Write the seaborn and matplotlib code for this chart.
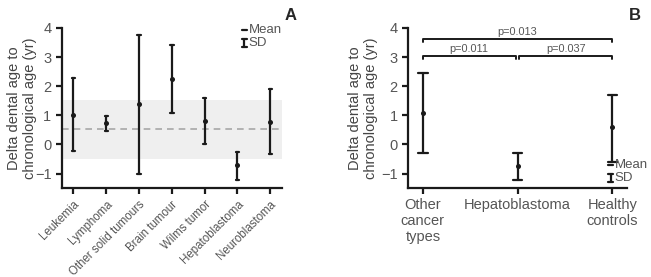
import pandas as pd
import seaborn as sns
import matplotlib.pyplot as plt

# Panel A: per cancer type, mean and SD limits
cats_a = ["Leukemia", "Lymphoma", "Other solid tumours", "Brain tumour",
          "Wilms tumor", "Hepatoblastoma", "Neuroblastoma"]
mean_a = [1.02, 0.72, 1.39, 2.24, 0.82, -0.72, 0.78]
low_a = [-0.22, 0.45, -1.00, 1.08, 0.03, -1.21, -0.33]
high_a = [2.28, 0.98, 3.77, 3.40, 1.60, -0.25, 1.89]

# Panel B
cats_b = ["Other\ncancer\ntypes", "Hepatoblastoma", "Healthy\ncontrols"]
mean_b = [1.07, -0.75, 0.59]
low_b = [-0.30, -1.23, -0.60]
high_b = [2.45, -0.28, 1.71]

# reference band in panel A
band_low, band_high, band_mid = -0.51, 1.54, 0.52

# significance brackets in panel B: (from, to, height, label)
brackets = [(0, 2, 3.61, "p=0.013"), (0, 0.98, 3.03, "p=0.011"), (1.02, 2, 3.03, "p=0.037")]

sns.set_style("ticks")
plt.rcParams["font.family"] = ["Liberation Sans", "DejaVu Sans"]

ink = "#1a1a1a"
grey = "#555555"


def long_frame(cats, low, mean, high):
    rows = []
    for c, lo, m, hi in zip(cats, low, mean, high):
        for v in (lo, m, hi):
            rows.append({"group": c, "value": v})
    return pd.DataFrame(rows)


def draw_panel(ax, df, order, label_x):
    sns.pointplot(data=df, x="group", y="value", order=order, ax=ax,
                  estimator="median", errorbar=lambda v: (v.min(), v.max()),
                  color=ink, linestyle="none", marker="o", markersize=1.6,
                  capsize=0.1, err_kws={"linewidth": 1.6})
    ax.set_ylim(-1.5, 4)
    ax.set_yticks([-1, 0, 1, 2, 3, 4])
    ax.set_yticklabels(["\u22121", "0", "1", "2", "3", "4"])
    ax.set_xlabel("")
    ax.set_ylabel("Delta dental age to\nchronological age (yr)", fontsize=10.5, color="#444444",
                  linespacing=1.1)
    ax.yaxis.set_label_coords(label_x, 0.5)
    for s in ["left", "bottom"]:
        ax.spines[s].set_linewidth(1.6)
        ax.spines[s].set_color(ink)
    sns.despine(ax=ax)
    ax.tick_params(axis="both", width=1.6, length=4, color=ink, labelcolor=grey, labelsize=10.5)


def legend_glyphs(ax, x, y_mean, y_sd):
    kw = dict(transform=ax.transAxes, clip_on=False, color=ink, linewidth=1.6)
    ax.plot([x - 0.01, x + 0.01], [y_mean, y_mean], **kw)
    ax.plot([x, x], [y_sd - 0.025, y_sd + 0.025], **kw)
    ax.plot([x - 0.012, x + 0.012], [y_sd + 0.025, y_sd + 0.025], **kw)
    ax.plot([x - 0.012, x + 0.012], [y_sd - 0.025, y_sd - 0.025], **kw)
    ax.text(x + 0.02, y_mean, "Mean", transform=ax.transAxes, va="center", ha="left",
            fontsize=9.5, color=grey)
    ax.text(x + 0.02, y_sd, "SD", transform=ax.transAxes, va="center", ha="left",
            fontsize=9.5, color=grey)


fig = plt.figure(figsize=(6.51, 2.77), dpi=100)
ax_a = fig.add_axes([0.095, 0.321, 0.338, 0.578])
ax_b = fig.add_axes([0.627, 0.321, 0.336, 0.578])

# Panel A
ax_a.axhspan(band_low, band_high, color="#efefef", zorder=0, linewidth=0)
ax_a.axhline(band_mid, color="#a8a8a8", linestyle=(0, (4, 3)), linewidth=1.2, zorder=1)
draw_panel(ax_a, long_frame(cats_a, low_a, mean_a, high_a), cats_a, -0.115)
plt.setp(ax_a.get_xticklabels(), rotation=45, ha="right", rotation_mode="anchor", fontsize=8.3)
legend_glyphs(ax_a, 0.83, 0.99, 0.906)
fig.text(0.447, 0.945, "A", fontsize=12, fontweight="bold", ha="center", va="center")

# Panel B
draw_panel(ax_b, long_frame(cats_b, low_b, mean_b, high_b), cats_b, -0.14)
plt.setp(ax_b.get_xticklabels(), fontsize=10.5, linespacing=1.15)
for x0, x1, h, lab in brackets:
    ax_b.plot([x0, x0, x1, x1], [h - 0.1, h, h, h - 0.1], color=ink, linewidth=1.4, clip_on=False)
    ax_b.text((x0 + x1) / 2, h + 0.07, lab, ha="center", va="bottom", fontsize=7.8, color=grey)
legend_glyphs(ax_b, 0.925, 0.144, 0.0625)
fig.text(0.975, 0.945, "B", fontsize=12, fontweight="bold", ha="center", va="center")

plt.savefig("out.png", dpi=100)
plt.close()
